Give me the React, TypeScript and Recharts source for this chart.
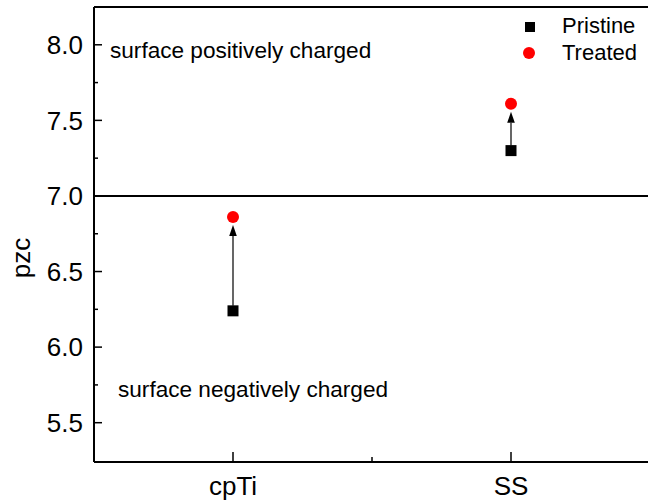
import React from 'react';
import {
  ComposedChart,
  Scatter,
  XAxis,
  YAxis,
  ReferenceLine,
  Legend,
  Customized,
} from 'recharts';

const CATEGORIES = ['cpTi', 'SS'];
const CATEGORY_POS = [1, 3];
const PRISTINE = [6.24, 7.3];
const TREATED = [6.86, 7.61];
const X_TICKS = [1, 2, 3];
const X_DOMAIN = [0, 4];
const Y_MAJOR = [5.5, 6.0, 6.5, 7.0, 7.5, 8.0];
const Y_MINOR = [5.75, 6.25, 6.75, 7.25, 7.75];
const Y_DOMAIN = [5.24, 8.25];
const NEUTRAL_PZC = 7.0;
const SERIES_NAMES = ['Pristine', 'Treated'];
const ANNOTATION_POS_TEXT = 'surface positively charged';
const ANNOTATION_NEG_TEXT = 'surface negatively charged';
const Y_LABEL = 'pzc';

const FONT = '"Liberation Sans", Arial, Helvetica, sans-serif';
const RED = '#ff0000';

const pristineData = CATEGORIES.map((name, i) => ({ name, x: CATEGORY_POS[i], y: PRISTINE[i] }));
const treatedData = CATEGORIES.map((name, i) => ({ name, x: CATEGORY_POS[i], y: TREATED[i] }));
const Y_TICKS = [...Y_MAJOR, ...Y_MINOR].sort((a, b) => a - b);

const YTick = (props: any) => {
  const { x, y, payload } = props;
  const major = Y_MAJOR.includes(payload.value);
  return (
    <g>
      <line x1={x} x2={x + (major ? 8 : 4)} y1={y} y2={y} stroke="#000" strokeWidth={1.5} />
      {major && (
        <text x={x - 11} y={y} dy="0.36em" textAnchor="end" fontSize={26} fontFamily={FONT} fill="#000">
          {payload.value.toFixed(1)}
        </text>
      )}
    </g>
  );
};

const XTick = (props: any) => {
  const { x, y, payload } = props;
  const idx = CATEGORY_POS.indexOf(payload.value);
  const major = idx >= 0;
  return (
    <g>
      <line x1={x} x2={x} y1={y} y2={y - (major ? 10 : 5)} stroke="#000" strokeWidth={1.5} />
      {major && (
        <text x={x} y={y + 33} textAnchor="middle" fontSize={26} fontFamily={FONT} fill="#000">
          {CATEGORIES[idx]}
        </text>
      )}
    </g>
  );
};

const SquareShape = (props: any) => {
  const { cx, cy } = props;
  return <rect x={cx - 5.5} y={cy - 5.5} width={11} height={11} fill="#000" />;
};

const CircleShape = (props: any) => {
  const { cx, cy } = props;
  return <circle cx={cx} cy={cy} r={6} fill={RED} />;
};

const ArrowShape = (props: any) => {
  const { x1, y1, x2, y2 } = props;
  const tipY = y2 + 8;
  const baseY = tipY + 11;
  return (
    <g>
      <line x1={x1} y1={y1 - 5} x2={x2} y2={baseY} stroke="#000" strokeWidth={1.2} />
      <polygon points={`${x2},${tipY} ${x2 - 3.8},${baseY} ${x2 + 3.8},${baseY}`} fill="#000" />
    </g>
  );
};

const LegendContent = () => (
  <svg width={130} height={56} style={{ display: 'block' }}>
    <rect x={10} y={10} width={10} height={10} fill="#000" />
    <text x={47} y={21} fontSize={22} fontFamily={FONT} fill="#000">
      {SERIES_NAMES[0]}
    </text>
    <circle cx={14} cy={41} r={6} fill={RED} />
    <text x={47} y={48} fontSize={22} fontFamily={FONT} fill="#000">
      {SERIES_NAMES[1]}
    </text>
  </svg>
);

const Annotations = () => (
  <g>
    <text x={110} y={58} fontSize={22.6} fontFamily={FONT} fill="#000">
      {ANNOTATION_POS_TEXT}
    </text>
    <text x={118} y={397} fontSize={22.6} fontFamily={FONT} fill="#000">
      {ANNOTATION_NEG_TEXT}
    </text>
    <text
      x={0}
      y={0}
      transform="translate(30,258) rotate(-90)"
      textAnchor="middle"
      fontSize={26}
      fontFamily={FONT}
      fill="#000"
    >
      {Y_LABEL}
    </text>
  </g>
);

export default function App() {
  return (
    <div
      style={{
        position: 'absolute',
        left: 0,
        top: 0,
        width: 648,
        height: 502,
        overflow: 'hidden',
        background: '#fff',
        fontFamily: FONT,
      }}
    >
      <ComposedChart width={660} height={502} margin={{ top: 7, right: 10, bottom: 0, left: 0 }}>
        <XAxis
          xAxisId={0}
          type="number"
          dataKey="x"
          domain={X_DOMAIN}
          ticks={X_TICKS}
          interval={0}
          height={40}
          allowDataOverflow
          axisLine={{ stroke: '#000', strokeWidth: 2 }}
          tickLine={false}
          tickSize={0}
          tickMargin={0}
          tick={XTick}
        />
        <YAxis
          yAxisId={0}
          type="number"
          dataKey="y"
          domain={Y_DOMAIN}
          ticks={Y_TICKS}
          interval={0}
          width={94}
          allowDataOverflow
          axisLine={{ stroke: '#000', strokeWidth: 2 }}
          tickLine={false}
          tickSize={0}
          tickMargin={0}
          tick={YTick}
        />
        <ReferenceLine y={Y_DOMAIN[1]} stroke="#000" strokeWidth={2} />
        <ReferenceLine y={NEUTRAL_PZC} stroke="#000" strokeWidth={2} />
        {CATEGORIES.map((c, i) => (
          <ReferenceLine
            key={c}
            segment={[
              { x: CATEGORY_POS[i], y: PRISTINE[i] },
              { x: CATEGORY_POS[i], y: TREATED[i] },
            ]}
            shape={ArrowShape}
          />
        ))}
        <Scatter name={SERIES_NAMES[0]} data={pristineData} shape={SquareShape} isAnimationActive={false} />
        <Scatter name={SERIES_NAMES[1]} data={treatedData} shape={CircleShape} isAnimationActive={false} />
        <Legend
          layout="vertical"
          align="center"
          verticalAlign="middle"
          content={LegendContent}
          wrapperStyle={{ position: 'absolute', left: 515, top: 12, width: 130, height: 56 }}
        />
        <Customized component={Annotations} />
      </ComposedChart>
    </div>
  );
}
